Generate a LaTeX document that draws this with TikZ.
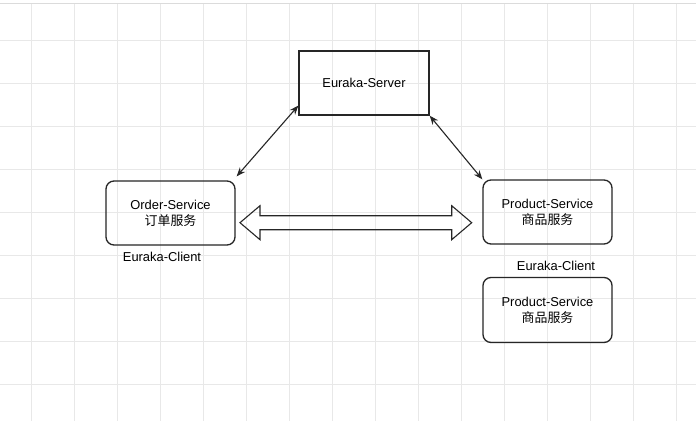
\documentclass[tikz,border=0pt]{standalone}
\usepackage{fontspec}
\setmainfont{Liberation Sans}
\newfontfamily\cjk{Noto Sans CJK SC}
\colorlet{gridgray}{black!9}
\colorlet{ink}{black!85}
\usetikzlibrary{arrows.meta,positioning}
\tikzstyle{box}=[draw=ink,line width=1.3pt,minimum width=129pt,minimum
height=64pt,inner sep=1pt,align=center,font=\fontsize{12.9}{16}\selectfont]
\tikzstyle{svc}=[box,rounded corners=8pt]
\tikzstyle{tag}=[inner sep=0pt,font=\fontsize{12.9}{16}\selectfont]
\tikzstyle{link}=[draw=ink,line width=1.1pt,{Stealth[length=9pt,width=7pt]}-{Stealth[length=9pt,width=7pt]}]

\begin{document}
\begin{tikzpicture}[x=1pt, y=1pt]
  \useasboundingbox (0,0) rectangle (696,421);
  \fill[white] (0,0) rectangle (696,421);
  % grid
  \foreach \x in {31,74,...,676} \draw[gridgray] (\x,0) -- (\x,418);
  \foreach \y in {37,80,...,381} \draw[gridgray] (0,\y) -- (696,\y);
  \draw[black!14] (0,418) -- (696,418);

  \node[box, minimum width=130pt] (server) at (364,338) {Euraka-Server};
  \node[svc] (order) at (170.5,208) {Order-Service\\{\cjk 订单服务}};
  \node[svc] (prod1) at (547.5,209) {Product-Service\\{\cjk 商品服务}};
  \node[svc, minimum height=65pt] (prod2) at (547.5,111) {Product-Service\\{\cjk 商品服务}};
  \node[tag, below=6pt of order.south, xshift=-8.5pt] (client1) {Euraka-Client};
  \node[tag, above=6pt of prod2.north, xshift=8.5pt] (client2) {Euraka-Client};

  \draw[link] ([shift={(1,4)}]order.north east) -- (server.199.5);
  \draw[link] (server.south east) -- (prod1.north west);

  % hollow double arrow
  \coordinate (arrL) at (240,198.3);
  \draw[ink, line width=1.1pt, line join=miter] (arrL) -- ++(20,17) -- ++(0,-10)
    -- ++(191.7,0) -- ++(0,10) -- ++(20,-17) -- ++(-20,-17) -- ++(0,10)
    -- ++(-191.7,0) -- ++(0,-10) -- cycle;
\end{tikzpicture}
\end{document}
